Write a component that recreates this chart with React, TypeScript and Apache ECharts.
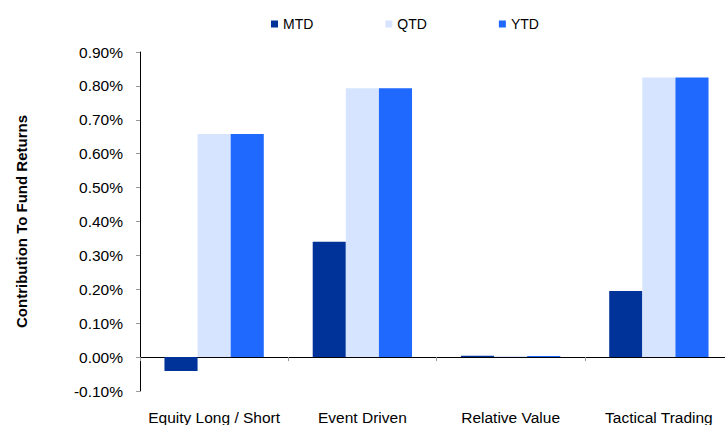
import React, { useEffect, useRef } from "react";
import * as echarts from "echarts";

const categories = ["Equity Long / Short", "Event Driven", "Relative Value", "Tactical Trading"];
const seriesNames = ["MTD", "QTD", "YTD"];
const mtdValues = [-0.041, 0.34, 0.004, 0.195];
const qtdValues = [0.658, 0.793, 0.003, 0.825];
const ytdValues = [0.658, 0.793, 0.003, 0.825];
const seriesColors = ["#003399", "#D7E4FF", "#1F69FF"];
const yMin = -0.1;
const yMax = 0.9;
const yInterval = 0.1;

export default function App() {
  const ref = useRef<HTMLDivElement>(null);
  useEffect(() => {
    if (!ref.current) return;
    const chart = echarts.init(ref.current, null, { renderer: "svg" });
    const font = "Liberation Sans, Arial, sans-serif";
    const data = [mtdValues, qtdValues, ytdValues];
    chart.setOption({
      animation: false,
      textStyle: { fontFamily: font },
      legend: {
        left: 266,
        top: 12,
        itemWidth: 7,
        itemHeight: 7,
        itemGap: 72,
        icon: "rect",
        textStyle: { fontSize: 14, color: "#000", fontFamily: font },
        data: seriesNames,
      },
      grid: { left: 140, top: 52, width: 593, height: 339, outerBoundsMode: "none", containLabel: false },
      xAxis: {
        type: "category",
        data: categories,
        axisLine: { onZero: true, lineStyle: { color: "#000", width: 1 } },
        axisTick: { show: true, interval: 0, length: 4, lineStyle: { color: "#999" } },
        axisLabel: { interval: 0, margin: 18, fontSize: 15.5, color: "#000", fontFamily: font },
      },
      yAxis: {
        type: "value",
        min: yMin,
        max: yMax,
        interval: yInterval,
        name: "Contribution To Fund Returns",
        nameLocation: "middle",
        nameGap: 111,
        nameTextStyle: { fontSize: 15, fontWeight: "bold", color: "#000", fontFamily: font },
        axisLine: { show: true, lineStyle: { color: "#000", width: 1 } },
        axisTick: { show: true, length: 4, lineStyle: { color: "#999" } },
        splitLine: { show: false },
        axisLabel: {
          margin: 17,
          fontSize: 15.5,
          color: "#000",
          fontFamily: font,
          formatter: (v: number) => `${v.toFixed(2)}%`,
        },
      },
      series: seriesNames.map((name, i) => ({
        name,
        type: "bar",
        data: data[i],
        barGap: "0%",
        barCategoryGap: "33%",
        itemStyle: { color: seriesColors[i] },
      })),
    });
    return () => chart.dispose();
  }, []);
  return (
    <div
      ref={ref}
      style={{ position: "absolute", left: 0, top: 0, width: 725, height: 425, background: "#fff" }}
    />
  );
}
